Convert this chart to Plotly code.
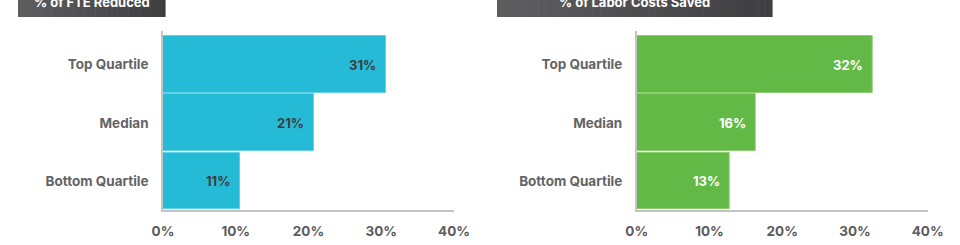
import plotly.graph_objects as go

categories = ["Top Quartile", "Median", "Bottom Quartile"]
fte_values = [30.6, 20.7, 10.6]
fte_labels = ["31%", "21%", "11%"]
labor_values = [32.5, 16.4, 12.8]
labor_labels = ["32%", "16%", "13%"]
x_ticks = [0, 10, 20, 30, 40]
x_tick_labels = ["0%", "10%", "20%", "30%", "40%"]
titles = ["% of FTE Reduced", "% of Labor Costs Saved"]

FONT = "Inter"
W, H = 960, 245

fig = go.Figure()

panels = [
    dict(vals=fte_values, labels=fte_labels, color="#25bbd6", edge="#62d2e8",
         txt="#3d3d3f", xa="x", ya="y", dom=[163 / W, 454 / W],
         box=(18, 165)),
    dict(vals=labor_values, labels=labor_labels, color="#63b946", edge="#8ccf72",
         txt="#ffffff", xa="x2", ya="y2", dom=[636.7 / W, 927.7 / W],
         box=(497, 772)),
]

ydom = [(H - 210) / H, (H - 31) / H]
shapes = []
annotations = []

for i, p in enumerate(panels):
    fig.add_trace(go.Bar(
        x=p["vals"], y=categories, orientation="h",
        xaxis=p["xa"], yaxis=p["ya"], width=0.975,
        marker=dict(color=p["color"], line=dict(color=p["edge"], width=1)),
        hoverinfo="skip", showlegend=False,
    ))
    for v, c, lab in zip(p["vals"], categories, p["labels"]):
        annotations.append(dict(
            x=v, y=c, xref=p["xa"], yref=p["ya"], text="<b>" + lab + "</b>",
            showarrow=False, xanchor="right", yanchor="middle", xshift=-8,
            font=dict(family=FONT, size=13, color=p["txt"]),
        ))
    # title box with gradient
    x0, x1 = p["box"]
    n = 40
    for k in range(n):
        t = k / (n - 1)
        r = int(round(0x5e + (0x3f - 0x5e) * t))
        col = f"rgb({r},{r},{r + 2})"
        shapes.append(dict(
            type="rect", xref="paper", yref="paper",
            x0=(x0 + (x1 - x0) * k / n) / W, x1=(x0 + (x1 - x0) * (k + 1) / n + 0.6) / W,
            y0=1 - 17 / H, y1=1.0, line=dict(width=0), fillcolor=col, layer="above",
        ))
    annotations.append(dict(
        x=(x0 + x1) / 2 / W, y=1 - 2 / H, xref="paper", yref="paper",
        text="<b>" + titles[i] + "</b>", showarrow=False,
        xanchor="center", yanchor="middle",
        font=dict(family=FONT, size=13, color="#ffffff"),
    ))

axis_common_x = dict(
    range=[0, 40], tickvals=x_ticks, ticktext=x_tick_labels,
    showgrid=False, zeroline=False, showline=True, linecolor="#c4c4c4",
    linewidth=1.5, ticks="", ticklabelstandoff=8, fixedrange=True,
    automargin=False,
    tickfont=dict(family=FONT, size=13.5, color="#5c5c5e", weight="bold"),
)
axis_common_y = dict(
    type="category", categoryorder="array", categoryarray=categories[::-1],
    range=[-0.5, 2.58], showgrid=False, zeroline=False, showline=True,
    linecolor="#c4c4c4", linewidth=1.5, ticks="", ticklabelstandoff=10,
    domain=ydom, fixedrange=True, automargin=False,
    tickfont=dict(family=FONT, size=13.5, color="#646466", weight="bold"),
)

fig.update_layout(
    width=W, height=H,
    margin=dict(l=0, r=0, t=0, b=0, autoexpand=False),
    paper_bgcolor="white", plot_bgcolor="white",
    xaxis=dict(domain=panels[0]["dom"], anchor="y", **axis_common_x),
    yaxis=dict(anchor="x", **axis_common_y),
    xaxis2=dict(domain=panels[1]["dom"], anchor="y2", **axis_common_x),
    yaxis2=dict(anchor="x2", **axis_common_y),
    shapes=shapes, annotations=annotations,
    bargap=0,
)

fig.write_html("out.html")
